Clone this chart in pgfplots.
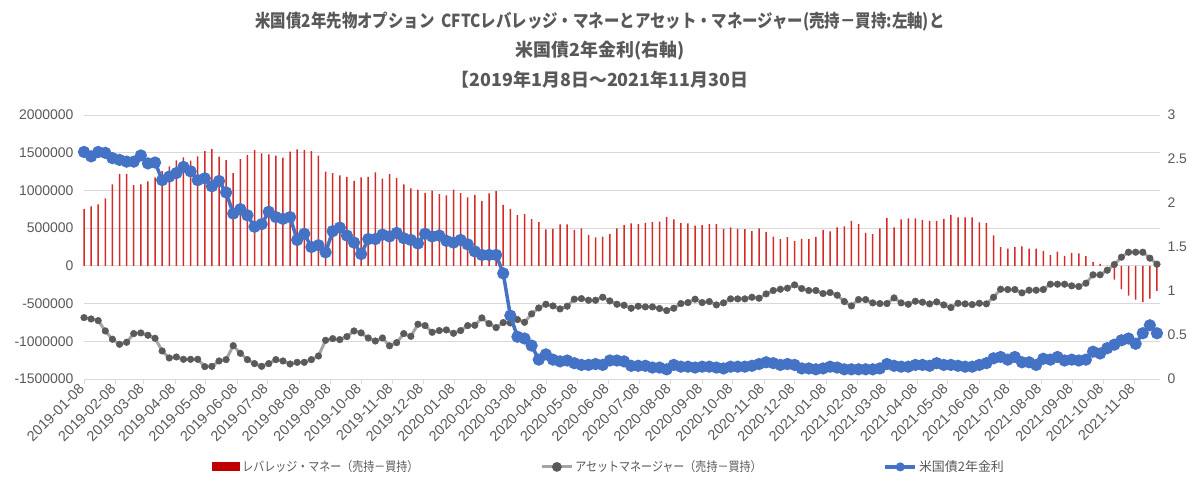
\documentclass[border=0pt]{standalone}
\usepackage{fontspec}
\usepackage{pgfplots}
\pgfplotsset{compat=1.18}
\usepackage{pgfplotstable}
\setmainfont{Liberation Sans}
\newfontfamily\jp{Noto Sans CJK JP}
\newfontfamily\jpn[FakeStretch=0.86]{Noto Sans CJK JP}
\newfontfamily\jpl[FakeStretch=0.85]{Noto Sans CJK JP}
\definecolor{txt}{HTML}{595959}
\definecolor{gridc}{HTML}{D9D9D9}
\definecolor{barc}{HTML}{D42A2A}
\definecolor{legred}{HTML}{C00000}
\definecolor{amline}{HTML}{A5A5A5}
\definecolor{ammark}{HTML}{5A5A5A}
\definecolor{blu}{HTML}{4472C4}

\pgfplotstableread{
x lev am yld
0 752000 -686000 2.58
7 788000 -704000 2.53
14 814000 -726000 2.58
21 894000 -863000 2.57
28 1080000 -973000 2.51
35 1221000 -1040000 2.49
42 1221000 -1013000 2.47
49 1071000 -898000 2.47
56 1080000 -889000 2.54
63 1119000 -920000 2.45
70 1173000 -960000 2.46
77 1257000 -1128000 2.26
84 1319000 -1221000 2.30
91 1398000 -1208000 2.34
98 1438000 -1239000 2.41
105 1394000 -1239000 2.36
112 1451000 -1239000 2.26
119 1522000 -1336000 2.28
126 1549000 -1332000 2.19
133 1447000 -1261000 2.25
140 1403000 -1243000 2.12
147 1230000 -1058000 1.88
154 1416000 -1159000 1.93
161 1469000 -1243000 1.86
168 1535000 -1296000 1.73
175 1491000 -1332000 1.76
182 1478000 -1296000 1.90
189 1460000 -1243000 1.84
196 1434000 -1261000 1.82
203 1513000 -1301000 1.84
210 1544000 -1279000 1.58
217 1535000 -1279000 1.65
224 1522000 -1243000 1.50
231 1460000 -1195000 1.52
238 1248000 -987000 1.44
245 1230000 -965000 1.68
252 1199000 -978000 1.72
259 1181000 -938000 1.63
266 1128000 -863000 1.55
273 1173000 -889000 1.42
280 1181000 -956000 1.59
287 1239000 -996000 1.59
294 1155000 -956000 1.64
301 1221000 -1060000 1.62
308 1164000 -1018000 1.66
315 1080000 -898000 1.60
322 1027000 -934000 1.58
329 1009000 -774000 1.54
336 969000 -792000 1.65
343 996000 -881000 1.62
350 951000 -858000 1.63
357 934000 -850000 1.57
364 1009000 -894000 1.55
371 965000 -858000 1.58
378 907000 -792000 1.53
385 942000 -788000 1.45
392 863000 -690000 1.41
399 960000 -766000 1.41
406 991000 -819000 1.41
413 810000 -752000 1.20
420 757000 -757000 0.72
427 673000 -712000 0.48
434 686000 -748000 0.46
441 619000 -637000 0.38
448 580000 -558000 0.22
455 482000 -509000 0.28
462 491000 -531000 0.22
469 549000 -571000 0.20
476 549000 -535000 0.21
483 478000 -442000 0.18
490 496000 -434000 0.16
497 412000 -456000 0.16
504 376000 -456000 0.17
511 389000 -416000 0.16
518 420000 -465000 0.21
525 496000 -509000 0.21
532 540000 -522000 0.20
539 562000 -562000 0.15
546 553000 -535000 0.15
553 571000 -544000 0.15
560 580000 -544000 0.13
567 588000 -566000 0.13
574 650000 -593000 0.11
581 615000 -562000 0.16
588 571000 -500000 0.14
595 562000 -487000 0.14
602 535000 -442000 0.13
609 540000 -487000 0.14
616 553000 -473000 0.14
623 553000 -518000 0.13
630 489000 -491000 0.12
637 510000 -438000 0.14
644 489000 -438000 0.14
651 487000 -438000 0.14
658 460000 -416000 0.15
665 498000 -429000 0.17
672 451000 -372000 0.19
679 387000 -327000 0.18
686 354000 -310000 0.16
693 381000 -296000 0.17
700 327000 -252000 0.16
707 358000 -301000 0.12
714 358000 -327000 0.12
721 385000 -327000 0.11
728 478000 -367000 0.12
735 456000 -354000 0.14
742 509000 -389000 0.13
749 522000 -473000 0.11
756 597000 -531000 0.11
763 553000 -447000 0.11
770 438000 -447000 0.11
777 420000 -491000 0.11
784 496000 -500000 0.12
791 633000 -500000 0.17
798 509000 -425000 0.15
805 615000 -491000 0.14
812 628000 -509000 0.14
819 628000 -469000 0.16
826 611000 -482000 0.16
833 597000 -504000 0.15
840 597000 -478000 0.18
847 624000 -518000 0.16
854 677000 -553000 0.16
861 642000 -496000 0.15
868 642000 -504000 0.14
875 642000 -513000 0.14
882 575000 -496000 0.16
889 566000 -504000 0.18
896 403000 -416000 0.235
903 248000 -310000 0.25
910 230000 -314000 0.22
917 248000 -314000 0.25
924 257000 -358000 0.19
931 230000 -323000 0.19
938 230000 -323000 0.16
945 199000 -314000 0.23
952 142000 -243000 0.22
959 190000 -243000 0.25
966 133000 -243000 0.21
973 173000 -265000 0.22
980 164000 -274000 0.21
987 128000 -230000 0.22
994 53000 -119000 0.31
1001 27000 -119000 0.29
1008 -5000 -58000 0.35
1015 -181000 18000 0.39
1022 -310000 115000 0.44
1029 -394000 181000 0.46
1036 -447000 181000 0.40
1043 -482000 181000 0.52
1050 -434000 102000 0.61
1057 -332000 22000 0.52
}\data

\begin{document}
\begin{tikzpicture}
\path (0bp,0bp) rectangle (1200bp,497bp);
\node[text=txt, font=\jpn\bfseries\fontsize{18}{18}\selectfont] at (600bp,475bp) {米国債2年先物オプション\ \ CFTCレバレッジ・マネーとアセット・マネージャー(売持－買持:左軸)と};
\node[text=txt, font=\jp\bfseries\fontsize{18}{18}\selectfont] at (600bp,446bp) {米国債2年金利(右軸)};
\node[text=txt, font=\jp\bfseries\fontsize{18}{18}\selectfont] at (600bp,417bp) {【2019年1月8日～2021年11月30日};

\begin{axis}[
  at={(84bp,118bp)}, anchor=south west,
  width=1076bp, height=264bp, scale only axis,
  xmin=0, xmax=1060,
  ymin=-1500000, ymax=2000000,
  clip=false,
  axis line style={draw=none},
  ytick={-1500000,-1000000,-500000,0,500000,1000000,1500000,2000000},
  yticklabels={-1500000,-1000000,-500000,0,500000,1000000,1500000,2000000},
  scaled y ticks=false,
  ymajorgrids, grid style={gridc, line width=0.8bp},
  xtick={0,31,59,90,120,151,181,212,243,273,304,334,365,396,425,456,486,517,547,578,609,639,670,700,731,762,790,821,851,882,912,943,974,1004,1035},
  xticklabels={2019-01-08,2019-02-08,2019-03-08,2019-04-08,2019-05-08,2019-06-08,2019-07-08,2019-08-08,2019-09-08,2019-10-08,2019-11-08,2019-12-08,2020-01-08,2020-02-08,2020-03-08,2020-04-08,2020-05-08,2020-06-08,2020-07-08,2020-08-08,2020-09-08,2020-10-08,2020-11-08,2020-12-08,2021-01-08,2021-02-08,2021-03-08,2021-04-08,2021-05-08,2021-06-08,2021-07-08,2021-08-08,2021-09-08,2021-10-08,2021-11-08},
  xtick pos=bottom, ytick pos=left,
  tick align=outside, major tick length=5bp,
  xtick style={gridc, line width=0.8bp},
  ytick style={draw=none},
  xticklabel style={rotate=45, anchor=east, text=txt, font=\fontsize{14.5}{14.5}\selectfont},
  yticklabel style={text=txt, font=\fontsize{14}{14}\selectfont, xshift=-2bp},
  legend columns=3,
  legend style={at={(0.488,-0.333)}, anchor=center, draw=none, fill=none,
    text=txt, font=\jpl\fontsize{13}{13}\selectfont,
    /tikz/every even column/.append style={column sep=120bp}},
]
\addplot[ybar, bar width=1.5bp, fill=barc, draw=none,
  legend image code/.code={\fill[legred] (0bp,-4.5bp) rectangle (28bp,4.5bp);}]
  table[x=x, y=lev] {\data};
\addlegendentry{レバレッジ・マネー（売持－買持）}
\addplot[amline, line width=3bp, mark=*, mark size=3.3bp,
  mark options={fill=ammark, draw=ammark, line width=0.5bp},
  legend image code/.code={\draw[amline, line width=3bp] (0bp,0bp) -- (30bp,0bp); \fill[ammark] (15bp,0bp) circle (3.3bp);}]
  table[x=x, y=am] {\data};
\addlegendentry{アセットマネージャー（売持－買持）}
\addlegendimage{legend image code/.code={\draw[blu, line width=3.5bp] (0bp,0bp) -- (30bp,0bp); \fill[blu] (15bp,0bp) circle (4.3bp);}}
\addlegendentry{\jp 米国債2年金利}
\end{axis}

\begin{axis}[
  at={(84bp,118bp)}, anchor=south west,
  width=1076bp, height=264bp, scale only axis,
  xmin=0, xmax=1060,
  ymin=0, ymax=3,
  clip=false,
  axis x line=none,
  axis y line*=right,
  y axis line style={draw=none},
  xtick=\empty,
  ytick={0,0.5,1,1.5,2,2.5,3},
  yticklabels={0,0.5,1,1.5,2,2.5,3},
  ytick style={draw=none},
  yticklabel style={text=txt, font=\fontsize{14}{14}\selectfont, xshift=4bp},
]
\addplot[blu, line width=3.5bp, mark=*, mark size=4.3bp,
  mark options={fill=blu, draw=blu}]
  table[x=x, y=yld] {\data};
\end{axis}
\end{tikzpicture}
\end{document}
